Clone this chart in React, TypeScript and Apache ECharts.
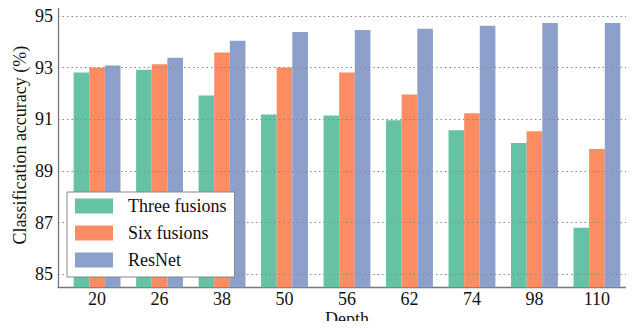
import React, { useEffect, useRef } from "react";
import * as echarts from "echarts";

const categories = ["20", "26", "38", "50", "56", "62", "74", "98", "110"];
const threeFusions = [92.81, 92.92, 91.92, 91.19, 91.15, 90.96, 90.58, 90.08, 86.8];
const sixFusions = [93.0, 93.13, 93.58, 93.0, 92.81, 91.96, 91.23, 90.54, 89.85];
const resNet = [93.08, 93.38, 94.04, 94.38, 94.46, 94.5, 94.62, 94.73, 94.73];
const yTicks = [85, 87, 89, 91, 93, 95];
const xTicks = categories.map((_, i) => i);

const FONT = "Liberation Serif";

export default function App() {
  const ref = useRef<HTMLDivElement>(null);
  useEffect(() => {
    if (!ref.current) return;
    const chart = echarts.init(ref.current, undefined, { renderer: "svg" });
    const toData = (arr: number[]) => arr.map((v, i) => [i, v]);
    const mk = (name: string, arr: number[], color: string) => ({
      name,
      type: "bar",
      data: toData(arr),
      barWidth: "25%",
      barGap: "0%",
      itemStyle: { color },
      z: 2,
    });
    chart.setOption({
      animation: false,
      textStyle: { fontFamily: FONT },
      grid: { left: 58, top: 3, width: 578, height: 284.3, outerBoundsMode: "none", containLabel: false },
      xAxis: {
        type: "value",
        min: -0.625,
        max: 8.625,
        name: "Depth",
        nameLocation: "middle",
        nameGap: 23,
        nameMoveOverlap: false,
        nameTextStyle: { fontFamily: FONT, fontSize: 18, color: "#111" },
        axisLine: { show: true, onZero: false, lineStyle: { color: "#777", width: 1.3 } },
        axisTick: { show: false, customValues: xTicks },
        splitLine: { show: false },
        axisLabel: {
          customValues: xTicks,
          formatter: (v: number) => categories[Math.round(v)] ?? "",
          fontFamily: FONT,
          fontSize: 18,
          color: "#111",
          margin: 3,
        },
      },
      yAxis: {
        type: "value",
        min: 84.5,
        max: 95.5,
        z: 5,
        name: "Classification accuracy (%)",
        nameLocation: "middle",
        nameGap: 29,
        nameMoveOverlap: false,
        nameTextStyle: { fontFamily: FONT, fontSize: 18, color: "#111" },
        axisLine: { show: true, onZero: false, lineStyle: { color: "#777", width: 1.3 } },
        axisTick: { show: false, customValues: yTicks },
        axisLabel: {
          customValues: yTicks,
          fontFamily: FONT,
          fontSize: 18,
          color: "#111",
          margin: 5,
        },
        splitLine: {
          show: true,
          lineStyle: { color: "#888", width: 1, type: [1.5, 3] },
        },
      },
      legend: {
        orient: "vertical",
        left: 67,
        top: 192,
        itemWidth: 38,
        itemHeight: 15,
        itemGap: 9,
        padding: [5, 8, 8, 8],
        borderColor: "#888",
        borderWidth: 1,
        backgroundColor: "#fff",
        z: 10,
        icon: "rect",
        textStyle: { fontFamily: FONT, fontSize: 18, color: "#111", padding: [0, 0, 0, 10] },
        data: ["Three fusions", "Six fusions", "ResNet"],
      },
      series: [
        mk("Three fusions", threeFusions, "#66c2a5"),
        mk("Six fusions", sixFusions, "#fc8d62"),
        mk("ResNet", resNet, "#8da0cb"),
      ],
    });
    return () => chart.dispose();
  }, []);
  return <div ref={ref} style={{ width: 634, height: 329, margin: -8 }} />;
}
